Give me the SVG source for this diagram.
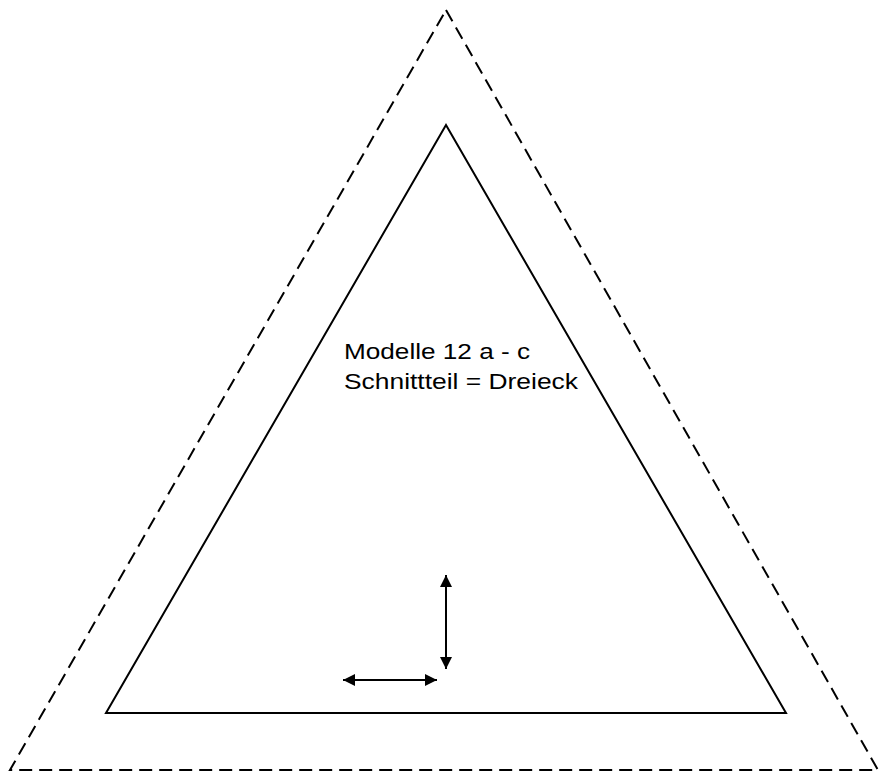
<svg xmlns="http://www.w3.org/2000/svg" width="880" height="773" viewBox="0 0 880 773">
<style>
.outer{fill:none;stroke:#000;stroke-width:2;stroke-dasharray:13 7}
.inner{fill:none;stroke:#000;stroke-width:2}
.arr{stroke:#000;stroke-width:2;fill:none}
.lbl{font-family:"Liberation Sans",Arial,sans-serif;font-size:22px;fill:#000}
</style>
<defs>
<marker id="ah" viewBox="0 0 10 10" refX="10" refY="5" markerWidth="6" markerHeight="6" orient="auto-start-reverse" markerUnits="strokeWidth">
<path d="M0,0 L10,5 L0,10 Z" fill="#000"/>
</marker>
</defs>
<g id="outer-triangle"><polygon class="outer" points="446,10 878,770 10,770"/></g>
<g id="inner-triangle"><polygon class="inner" points="446,125 786,713 106,713"/></g>
<g id="label">
<text class="lbl" x="344" y="359" textLength="186" lengthAdjust="spacingAndGlyphs">Modelle 12 a - c</text>
<text class="lbl" x="344" y="389" textLength="234" lengthAdjust="spacingAndGlyphs">Schnittteil = Dreieck</text>
</g>
<g id="connectors">
<line class="arr" x1="446" y1="575" x2="446" y2="669" marker-start="url(#ah)" marker-end="url(#ah)"/>
<line class="arr" x1="343" y1="680" x2="437" y2="680" marker-start="url(#ah)" marker-end="url(#ah)"/>
</g>
</svg>
